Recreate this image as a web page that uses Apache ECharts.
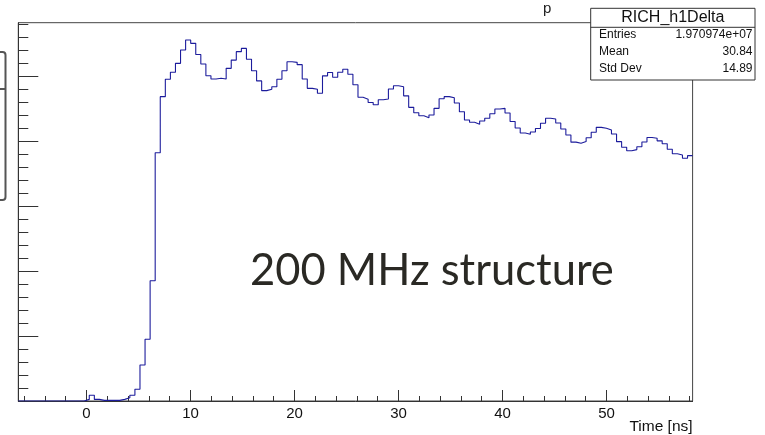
<!DOCTYPE html>
<html><head><meta charset="utf-8">
<script src="https://cdn.jsdelivr.net/npm/echarts@6/dist/echarts.min.js"></script>
<style>html,body{margin:0;padding:0;background:#fff}#c{width:765px;height:435px}</style>
</head><body><div id="c"></div>
<script>
// Histogram RICH_h1Delta : 133 bins
const binLow = -6.56;
const binWidth = 0.4875;
const counts = [
  0,0,0,0,0,0,0,0,0,0,0,0,0,
  1.0, 3.5, 1.0, 0.4, 0.4, 0.4, 0.4, 1.0, 2.0, 3.5,
  7.2, 22.2, 38.0, 74.0, 152.8, 187.3, 198.0, 202.3, 207.8, 216.0,
  222.2, 220.1, 213.2, 207.4, 200.2, 198.2, 198.6, 198.2, 204.7, 209.8,
  215.0, 217.0, 210.3, 203.2, 197.0, 191.0, 191.9, 193.4, 198.0, 203.2,
  208.8, 208.4, 207.0, 198.2, 192.4, 191.8, 189.4, 200.1, 202.2, 199.2,
  202.3, 204.2, 201.1, 194.6, 186.9, 185.7, 183.7, 182.3, 185.4, 185.8,
  192.0, 194.0, 193.4, 187.8, 180.7, 177.4, 175.5, 174.3, 176.0, 180.1,
  186.0, 187.3, 186.6, 183.4, 178.0, 172.9, 171.5, 170.3, 172.3, 174.0,
  176.8, 179.7, 180.1, 177.2, 172.0, 168.0, 164.9, 164.1, 165.5, 167.7,
  170.9, 174.0, 173.5, 171.1, 167.4, 163.7, 159.3, 158.6, 159.7, 162.0,
  165.4, 168.4, 167.8, 166.8, 164.3, 159.6, 156.2, 154.0, 154.7, 156.5,
  159.4, 162.2, 161.7, 160.1, 158.3, 154.9, 152.2, 151.4, 149.4, 151.0
];
const yMax = 232.8;
const xMajorTicks = [0, 10, 20, 30, 40, 50];
const xMinorTicks = [-6, -4, -2, 2, 4, 6, 8, 12, 14, 16, 18, 22, 24, 26, 28, 32, 34, 36, 38, 42, 44, 46, 48, 52, 54, 56, 58];
const yMajorTicks = [0, 40, 80, 120, 160, 200];
const yMinorTicks = [8, 16, 24, 32, 48, 56, 64, 72, 88, 96, 104, 112, 128, 136, 144, 152, 168, 176, 184, 192, 208, 216, 224, 232];
const statsTitle = 'RICH_h1Delta';
const statsRows = [['Entries', '1.970974e+07'], ['Mean', '30.84'], ['Std Dev', '14.89']];
const xTitle = 'Time [ns]';
const annotation = '200 MHz structure';

const xMax = binLow + counts.length * binWidth;
const pts = counts.map((c, i) => [binLow + i * binWidth, c]);
pts.push([xMax, counts[counts.length - 1]]);

const chart = echarts.init(document.getElementById('c'), null, {renderer: 'canvas'});
const axCol = '#333';
const font = 'Liberation Sans, Arial, Helvetica, sans-serif';
const gL = 18.3, gT = 22.7, gR = 692.6, gB = 401;

const stats = [];
const bx = 590.7, by = 8.3, bw = 164.3, bh = 71.7;
stats.push({type: 'rect', z: 100, shape: {x: bx, y: by, width: bw, height: bh}, style: {fill: '#fff', stroke: '#333', lineWidth: 1}});
stats.push({type: 'line', z: 101, shape: {x1: bx, y1: 27.3, x2: bx + bw, y2: 27.3}, style: {stroke: '#333', lineWidth: 1}});
stats.push({type: 'text', z: 101, style: {text: statsTitle, x: bx + bw / 2, y: 18, align: 'center', verticalAlign: 'middle', font: '16px ' + font, fill: '#111'}});
const rowY = [35, 51.7, 68.5];
statsRows.forEach((r, i) => {
  stats.push({type: 'text', z: 101, style: {text: r[0], x: 599, y: rowY[i], align: 'left', verticalAlign: 'middle', font: '12px ' + font, fill: '#111'}});
  stats.push({type: 'text', z: 101, style: {text: r[1], x: 752.5, y: rowY[i], align: 'right', verticalAlign: 'middle', font: '12px ' + font, fill: '#111'}});
});

chart.setOption({
  animation: false,
  backgroundColor: '#fff',
  grid: {left: gL, top: gT, width: gR - gL, height: gB - gT, show: true, borderColor: '#444', borderWidth: 1, backgroundColor: 'transparent'},
  xAxis: [
    {type: 'value', min: binLow, max: xMax, position: 'bottom',
     axisLine: {show: true, onZero: false, lineStyle: {color: axCol, width: 1}},
     axisTick: {show: true, inside: true, length: 11, customValues: xMajorTicks, lineStyle: {color: axCol}},
     axisLabel: {show: true, customValues: xMajorTicks, margin: 5, fontSize: 15, fontFamily: font, color: '#111'},
     splitLine: {show: false}},
    {type: 'value', min: binLow, max: xMax, position: 'bottom',
     axisLine: {show: false, onZero: false},
     axisTick: {show: true, inside: true, length: 5, customValues: xMinorTicks, lineStyle: {color: axCol}},
     axisLabel: {show: false}, splitLine: {show: false}}
  ],
  yAxis: [
    {type: 'value', min: 0, max: yMax, position: 'left',
     axisLine: {show: true, onZero: false, lineStyle: {color: axCol, width: 1}},
     axisTick: {show: true, inside: true, length: 20, customValues: yMajorTicks, lineStyle: {color: axCol}},
     axisLabel: {show: false}, splitLine: {show: false}},
    {type: 'value', min: 0, max: yMax, position: 'left',
     axisLine: {show: false, onZero: false},
     axisTick: {show: true, inside: true, length: 10, customValues: yMinorTicks, lineStyle: {color: axCol}},
     axisLabel: {show: false}, splitLine: {show: false}}
  ],
  series: [{
    type: 'line', xAxisIndex: 0, yAxisIndex: 0, data: pts, step: 'end',
    showSymbol: false, symbol: 'none', clip: true,
    lineStyle: {color: '#1c1c9c', width: 1.1}
  }],
  graphic: [
    ...stats,
    {type: 'text', z: 100, style: {text: xTitle, x: gR, y: 427, align: 'right', verticalAlign: 'middle', font: '15.5px ' + font, fill: '#111'}},
    {type: 'text', z: 100, style: {text: annotation, x: 250, y: 271, align: 'left', verticalAlign: 'middle', font: '43.5px Lato, sans-serif', fill: '#2a2924'}},
    {type: 'text', z: 100, style: {text: 'p', x: 543, y: 9, align: 'left', verticalAlign: 'middle', font: '15px ' + font, fill: '#222'}},
    {type: 'rect', z: 100, shape: {x: -20, y: 52, width: 25.5, height: 148, r: 3}, style: {fill: 'none', stroke: '#555', lineWidth: 2}},
    {type: 'line', z: 100, shape: {x1: 0, y1: 89, x2: 5.5, y2: 89}, style: {stroke: '#555', lineWidth: 2}}
  ]
});
</script>
</body></html>
